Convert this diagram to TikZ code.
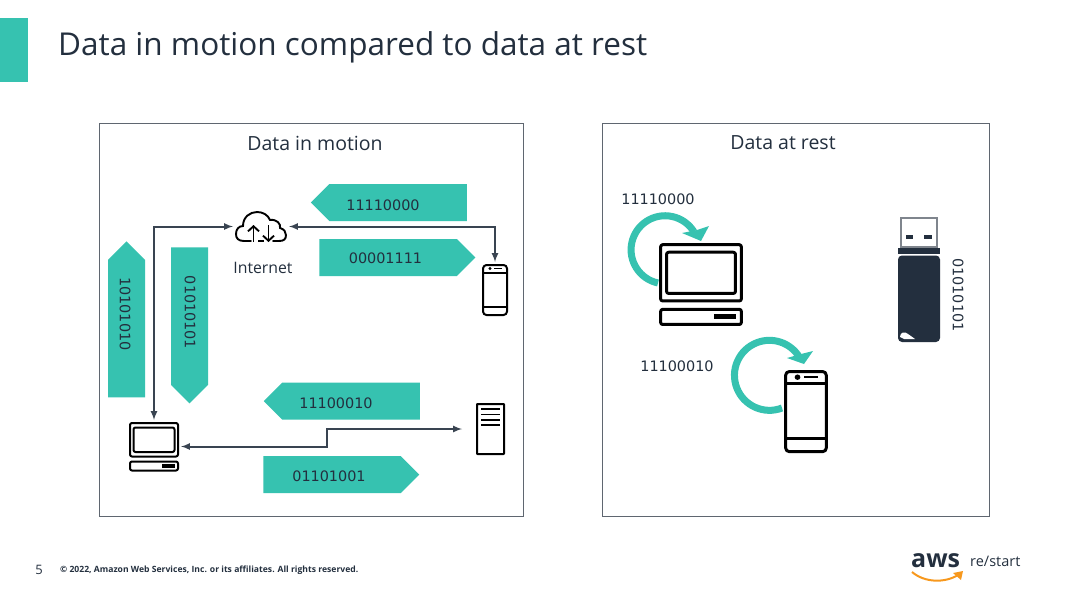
\documentclass[tikz,border=0pt]{standalone}
\usepackage{fontspec}
\setmainfont{Open Sans}
\newfontfamily\digitfont{DejaVu Sans}
\usetikzlibrary{arrows,arrows.meta,shapes.symbols}
\definecolor{awsteal}{HTML}{36C2B0}
\definecolor{awsdark}{HTML}{232F3E}
\definecolor{awsgray}{HTML}{5F6670}
\definecolor{awsorange}{HTML}{F7981D}
\tikzset{
    panel/.style = {draw=awsgray, line width=.9pt, fill=white},
    databar/.style = {signal, fill=awsteal, inner sep=0pt, outer sep=0pt,
        minimum width=156pt, minimum height=37pt},
    bits/.style = {text=awsdark, inner sep=0pt, font=\digitfont\fontsize{14.4}{15}\selectfont},
    caption/.style = {text=awsdark, inner sep=0pt, font=\fontsize{19.5}{20}\selectfont},
    iconspot/.style = {inner sep=0pt, outer sep=2pt},
    link/.style = {draw=awsdark!90, line width=2pt, latex-latex},
    iconline/.style = {draw=black, line width=#1, rounded corners=2pt, line join=round},
    turnband/.style = {draw=awsteal, line width=7pt},
    pics/laptop/.style = {code={
        \draw[iconline=#1] (1,1) rectangle (49,34.5);
        \draw[iconline=#1] (4.5,5.5) rectangle (45.5,30);
        \draw[iconline=#1] (1,39.5) rectangle (49,48.5);
        \fill[black] (33,42) rectangle (46,45.5);
    }},
    pics/laptop/.default = 2pt,
    pics/phone/.style = {code={
        \draw[iconline=#1, rounded corners=3.5pt] (1,1) rectangle (25,51);
        \draw[iconline=#1] (1,8.5) -- (25,8.5);
        \draw[iconline=#1] (1,43) -- (25,43);
        \fill[black] (8,4.5) circle (1.7);
        \fill[black] (12,3.7) rectangle (20,5.3);
    }},
    pics/phone/.default = 2pt,
    pics/server/.style = {code={
        \draw[iconline=2pt, rounded corners=.5pt] (1,1) rectangle (28,51);
        \foreach \ly in {6,11.5,17,22}
            \draw[black, line width=1.7pt] (5,\ly) -- (24,\ly);
    }},
    pics/cloud/.style = {code={
        \draw[black, line width=1.9pt, line cap=round] (16,30) -- (9,30) .. controls (3,30) and (1,27) .. (1,23)
            .. controls (1,18) and (4,15) .. (8,15) .. controls (8,6) and (15,1) .. (22,1)
            .. controls (28,1) and (33,4) .. (35,9) .. controls (42,8) and (46,13) .. (45,17)
            .. controls (49,18) and (51,21) .. (51,24) .. controls (51,28) and (49,30) .. (44,30) -- (38,30);
        \draw[black, line width=1.9pt] (23,30) -- (29,30);
        \draw[black, line width=1.9pt, -{Straight Barb[length=5pt,width=11pt]}] (18.5,31) -- (18.5,14);
        \draw[black, line width=1.9pt, -{Straight Barb[length=5pt,width=11pt]}] (33.5,14) -- (33.5,31);
    }}
}
\begin{document}
\begin{tikzpicture}[x=1pt,y=-1pt]
    \useasboundingbox (0,0) rectangle (1076,597);
    \fill[awsteal] (0,18) rectangle (28,82);
    \node[anchor=west, text=awsdark, inner sep=0pt, font=\fontsize{31.5}{33}\selectfont] (title) at (58,47) {Data in motion compared to data at rest};

    \draw[panel] (99,123) rectangle (523,516);
    \draw[panel] (602,123) rectangle (989,516);
    \node[caption] (motion) at (315,143) {Data in motion};
    \node[caption] (rest) at (783,143) {Data at rest};

    % bars
    \node[databar, signal to=west] (bara) at (398,202.5) {};
    \node[databar, signal to=east] (barb) at (388,257.5) {};
    \node[databar, signal to=west, rotate=-90] (barc) at (126.5,328.5) {};
    \node[databar, signal to=east, rotate=-90] (bard) at (189.5,316) {};
    \node[databar, signal to=west] (bare) at (351,401) {};
    \node[databar, signal to=east] (barf) at (332,474.5) {};
    \node[bits] (bitsa) at (383,205) {11110000};
    \node[bits] (bitsb) at (385.5,258) {00001111};
    \node[bits, rotate=-90] (bitsc) at (125,314) {10101010};
    \node[bits, rotate=-90] (bitsd) at (190,312.5) {01010101};
    \node[bits] (bitse) at (336,403) {11100010};
    \node[bits] (bitsf) at (329,476) {01101001};

    % icons
    \node[iconspot, minimum width=52pt, minimum height=31pt] (cloud) at (261,226.5) {};
    \pic at (235,211) {cloud};
    \node[inner sep=0pt, text=awsdark, font=\fontsize{15.8}{16}\selectfont] (internet) at (263,268) {Internet};
    \node[iconspot, minimum width=26pt, minimum height=52pt] (phonea) at (495,290) {};
    \pic at (482,264) {phone};
    \node[iconspot, minimum width=50pt, minimum height=49pt] (laptopa) at (154,446.5) {};
    \pic at (129,422) {laptop};
    \node[iconspot, outer xsep=14pt, minimum width=29pt, minimum height=52pt] (servera) at (490.5,429) {};
    \pic at (476,403) {server};
    \coordinate (stepa) at (327,438);

    \draw[link] (laptopa.north) |- (cloud.west);
    \draw[link] (cloud.east) -| (phonea.north);
    \draw[link] (laptopa.east) -| (stepa) |- (servera.west);

    % data at rest
    \node[bits] (bitsg) at (658,199) {11110000};
    \node[bits] (bitsh) at (677,366) {11100010};
    \pic[scale=1.68] at (659,243) {laptop=3pt};
    \pic[xscale=1.69, yscale=1.6] at (784,370) {phone=3pt};
    \draw[turnband] (658,283) arc[start angle=102, end angle=328, radius=34];
    \fill[awsteal] (682,233) -- (701,241) -- (709,226) -- (697,230) -- cycle;
    \draw[turnband] (782,408) arc[start angle=69, end angle=328, radius=35];
    \fill[awsteal] (787,358) -- (804,364) -- (813,351) -- (801,354) -- cycle;

    % usb stick
    \draw[awsgray!80, line width=1.4pt] (901,218) rectangle (937,247);
    \fill[awsdark] (906,234.5) rectangle (913,239);
    \fill[awsdark] (924,234.5) rectangle (932,239);
    \fill[awsdark] (898,248) rectangle (940,254);
    \fill[awsdark, rounded corners=4pt] (898,255.5) -- (940,255.5) -- (940,342) -- (898,342) -- cycle;
    \fill[white] (900,337) .. controls (900,332) and (905,331) .. (908,334) -- (915,339) -- (904,339) -- cycle;
    \node[bits, rotate=-90] (bitsi) at (958,295) {01010101};

    % footer
    \node[text=awsdark, inner sep=0pt, font=\fontsize{13}{13}\selectfont] (pagenum) at (39,570) {5};
    \node[anchor=west, text=awsdark, inner sep=0pt, font=\bfseries\fontsize{8.6}{9}\selectfont] (legal) at (60,570.5) {© 2022, Amazon Web Services, Inc. or its affiliates. All rights reserved.};
    \node[anchor=west, text=awsdark, inner sep=0pt, font=\bfseries\fontsize{25}{26}\selectfont] (aws) at (911,561) {aws};
    \node[anchor=west, text=awsdark, inner sep=0pt, font=\fontsize{14.5}{15}\selectfont] (restart) at (970,561.5) {re/start};
    \draw[awsorange, line width=2pt] (912,572) .. controls (925,583) and (945,583) .. (958,575);
    \fill[awsorange] (953,573) -- (963,571) -- (961,580) -- cycle;
\end{tikzpicture}
\end{document}
